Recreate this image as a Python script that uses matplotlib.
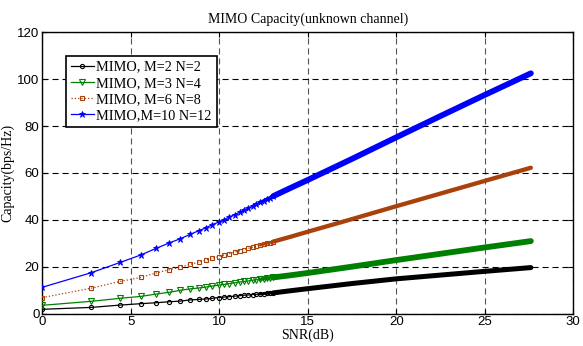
import matplotlib
matplotlib.use('Agg')
import matplotlib.pyplot as plt

# SNR points (dB); markers are drawn at the first n_markers
snr_db = [0, 2.76, 4.40, 5.57, 6.43, 7.13, 7.79, 8.36, 8.83, 9.25, 9.60, 9.96,
          10.24, 10.57, 10.86, 11.14, 11.40, 11.64, 11.88, 12.10, 12.30, 12.50,
          12.70, 12.88, 13.05,
          14, 15, 17.5, 20, 22.5, 25, 27.6]
n_markers = 25
band_start = 20

cap_2x2 = [1.8, 2.6, 3.6, 4.2, 4.6, 5.0, 5.3, 5.8, 6.0, 6.2, 6.5, 6.8,
           7.0, 7.2, 7.4, 7.6, 7.8, 7.9, 8.1, 8.2, 8.3, 8.5,
           8.6, 8.7, 8.8,
           9.7, 10.6, 12.8, 14.8, 16.4, 18.0, 19.6]
cap_3x4 = [3.5, 5.2, 6.5, 7.3, 8.3, 9.0, 9.9, 10.5, 10.9, 11.3, 11.7, 12.1,
           12.4, 12.8, 13.1, 13.4, 13.7, 13.9, 14.2, 14.4, 14.6, 14.8,
           15.0, 15.2, 15.4,
           16.3, 17.3, 20.0, 22.8, 25.5, 28.2, 30.9]
cap_6x8 = [6.8, 10.8, 13.7, 15.4, 17.3, 18.6, 19.8, 21.0, 21.9, 22.8, 23.5, 24.3,
           24.9, 25.6, 26.2, 26.8, 27.3, 27.8, 28.3, 28.7, 29.1, 29.5,
           29.9, 30.3, 30.7,
           32.7, 34.9, 40.3, 45.8, 51.2, 56.6, 62.2]
cap_10x12 = [11.2, 17.4, 21.8, 25.0, 27.8, 30.0, 31.9, 33.8, 35.3, 36.6, 37.9, 39.0,
             40.0, 41.2, 42.2, 43.2, 44.1, 45.0, 45.9, 46.7, 47.4, 48.1,
             48.9, 49.5, 50.1,
             53.5, 57.0, 66.0, 75.2, 84.3, 93.3, 102.5]

labels = ['MIMO, M=2 N=2', 'MIMO, M=3 N=4', 'MIMO, M=6 N=8', 'MIMO,M=10 N=12']

serif = 'Liberation Serif'
sans = 'Liberation Sans'

fig = plt.figure(figsize=(5.83, 3.46), dpi=100)
ax = fig.add_axes([0.0726, 0.0939, 0.9108, 0.8127])

styles = [
    dict(color='black', ls='-', marker='o', ms=3.0, mfc='none', mew=0.8, band=3.6),
    dict(color='#008000', ls='-', marker='v', ms=3.8, mfc='none', mew=0.8, band=4.2),
    dict(color='#a8420a', ls=':', marker='s', ms=2.3, mfc='none', mew=0.8, band=3.1),
    dict(color='#0000ff', ls='-', marker='*', ms=4.6, mfc='#0000ff', mew=0.6, band=4.2),
]
series = [cap_2x2, cap_3x4, cap_6x8, cap_10x12]

for cap, st, lab in zip(series, styles, labels):
    # dense markers at high SNR merge into a solid band
    ax.plot(snr_db[band_start:], cap[band_start:], color=st['color'],
            lw=st['band'] * 0.55, solid_capstyle='round', zorder=2.5)
    ax.plot(snr_db[n_markers - 1:], cap[n_markers - 1:], color=st['color'],
            lw=st['band'], solid_capstyle='round', zorder=2.6)
    ax.plot(snr_db, cap, color=st['color'], ls=st['ls'], lw=0.9,
            marker=st['marker'], ms=st['ms'], mfc=st['mfc'], mec=st['color'],
            mew=st['mew'], markevery=list(range(n_markers)), label=lab, zorder=3)

ax.set_xlim(0, 30)
ax.set_ylim(0, 120)
ax.set_xticks(range(0, 31, 5))
ax.set_yticks(range(0, 121, 20))

ax.xaxis.grid(True, color='#555555', ls=(0, (5.5, 3.5)), lw=0.8)
ax.yaxis.grid(True, color='black', ls=(0, (5.5, 3.5)), lw=0.8)
ax.set_axisbelow(True)

ax.tick_params(direction='in', length=3.5, width=0.8, top=True, right=True,
               labelsize=9.5, pad=2)
for lbl in ax.get_xticklabels() + ax.get_yticklabels():
    lbl.set_fontfamily(sans)
for sp in ax.spines.values():
    sp.set_linewidth(1.0)

ax.set_title('MIMO Capacity(unknown channel)', fontfamily=serif, fontsize=10, pad=7)
ax.set_xlabel('SNR(dB)', fontfamily=serif, fontsize=10, labelpad=0)
ax.set_ylabel('Capacity(bps/Hz)', fontfamily=serif, fontsize=10, labelpad=2)

leg = ax.legend(loc='upper left', bbox_to_anchor=(0.044, 0.917), borderaxespad=0,
                prop={'family': serif, 'size': 10.3}, fancybox=False,
                edgecolor='black', framealpha=1, handlelength=1.6,
                handletextpad=0.2, labelspacing=0.22, borderpad=0.35, numpoints=1)
leg.get_frame().set_linewidth(1.2)

fig.savefig('out.png', dpi=100)
